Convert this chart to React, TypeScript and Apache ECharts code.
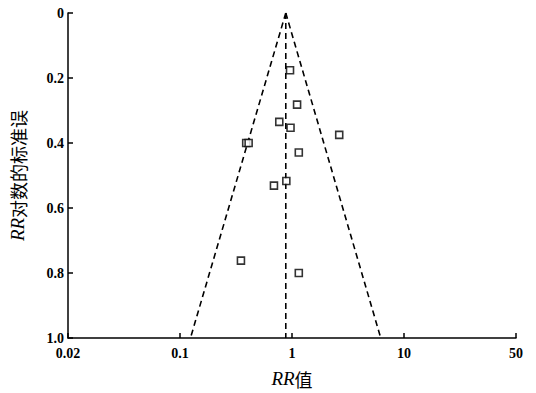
import React, { useEffect, useRef } from "react";
import * as echarts from "echarts";

// Study points: [RR, SE of log RR]
const studyRR = [0.96, 1.11, 0.77, 0.97, 0.39, 0.41, 2.64, 1.15, 0.69, 0.89, 0.35, 1.15];
const studySE = [0.176, 0.282, 0.335, 0.353, 0.40, 0.40, 0.375, 0.429, 0.531, 0.517, 0.762, 0.80];

// Pooled estimate and funnel limits (at SE = 0 and SE = 1)
const pooledRR = 0.88;
const funnelLeftAtBase = 0.124;
const funnelRightAtBase = 6.2;
const seTop = 0;
const seBase = 1.0;

// Axis ticks and labels
const xTickValues = [0.01, 0.1, 1, 10, 100];
const xTickLabels = ["0.02", "0.1", "1", "10", "50"];
const yTickValues = [0, 0.2, 0.4, 0.6, 0.8, 1.0];
const yTickLabels = ["0", "0.2", "0.4", "0.6", "0.8", "1.0"];

export default function App() {
  const ref = useRef<HTMLDivElement>(null);
  useEffect(() => {
    if (!ref.current) return;
    const chart = echarts.init(ref.current, undefined, { renderer: "svg" });
    const tickFont = {
      fontFamily: "Liberation Serif",
      fontWeight: "bold" as const,
      fontSize: 14,
      color: "#000",
    };
    const nameRich = {
      i: { fontFamily: "Liberation Serif", fontStyle: "italic" as const, fontSize: 19, color: "#000" },
      c: { fontFamily: "Noto Sans CJK SC", fontSize: 18, color: "#000" },
    };
    const dashed = { color: "#000", width: 1.6, type: [6, 4] as number[] };
    chart.setOption({
      animation: false,
      backgroundColor: "#fff",
      grid: { left: 64, right: 20, top: 13, bottom: 52 },
      xAxis: {
        type: "log",
        logBase: 10,
        position: "bottom",
        min: xTickValues[0],
        max: xTickValues[xTickValues.length - 1],
        name: "{i|RR}{c|值}",
        nameLocation: "middle",
        nameGap: 31,
        nameTextStyle: { rich: nameRich },
        splitLine: { show: false },
        minorTick: { show: false },
        axisLine: { onZero: false, lineStyle: { color: "#000", width: 1.5 } },
        axisTick: { inside: true, length: 5, lineStyle: { color: "#000", width: 1.5 } },
        axisLabel: {
          ...tickFont,
          margin: 8,
          formatter: (v: number) => {
            const idx = xTickValues.findIndex((t) => Math.abs(Math.log10(t) - Math.log10(v)) < 1e-6);
            return idx >= 0 ? xTickLabels[idx] : "";
          },
        },
      },
      yAxis: {
        type: "value",
        inverse: true,
        position: "left",
        min: yTickValues[0],
        max: yTickValues[yTickValues.length - 1],
        interval: 0.2,
        name: "{i|RR}{c|对数的标准误}",
        nameLocation: "middle",
        nameGap: 41,
        nameRotate: 90,
        nameTextStyle: { rich: nameRich },
        splitLine: { show: false },
        axisLine: { onZero: false, lineStyle: { color: "#000", width: 1.5 } },
        axisTick: { inside: true, length: 5, lineStyle: { color: "#000", width: 1.5 } },
        axisLabel: {
          ...tickFont,
          margin: 4,
          formatter: (v: number) => {
            const idx = yTickValues.findIndex((t) => Math.abs(t - v) < 1e-6);
            return idx >= 0 ? yTickLabels[idx] : "";
          },
        },
      },
      series: [
        {
          type: "line",
          data: [[pooledRR, seTop], [funnelLeftAtBase, seBase]],
          showSymbol: false,
          lineStyle: dashed,
          z: 2,
        },
        {
          type: "line",
          data: [[pooledRR, seTop], [funnelRightAtBase, seBase]],
          showSymbol: false,
          lineStyle: dashed,
          z: 2,
        },
        {
          type: "line",
          data: [[pooledRR, seTop], [pooledRR, seBase]],
          showSymbol: false,
          lineStyle: dashed,
          z: 2,
        },
        {
          type: "scatter",
          data: studyRR.map((rr, i) => [rr, studySE[i]]),
          symbol: "rect",
          symbolSize: 7,
          itemStyle: { color: "#fff", borderColor: "#000", borderWidth: 1.6 },
          z: 3,
        },
      ],
    });
    return () => chart.dispose();
  }, []);
  return (
    <div
      ref={ref}
      style={{ position: "fixed", left: 0, top: 0, width: 536, height: 393, background: "#fff" }}
    />
  );
}
